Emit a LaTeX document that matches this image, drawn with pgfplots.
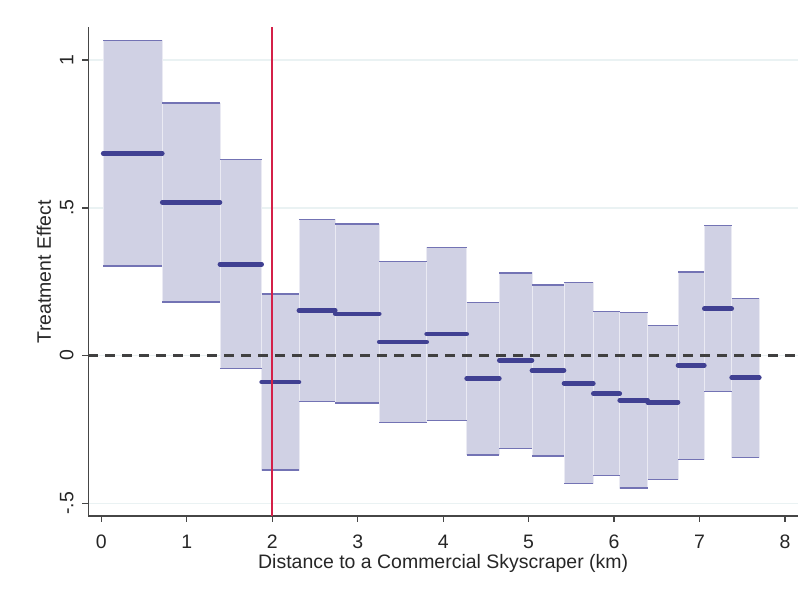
\documentclass[border=0pt]{standalone}
\usepackage{fontspec}
\setmainfont{Liberation Sans}
\usepackage{pgfplots}
\pgfplotsset{compat=1.18}
\definecolor{cifill}{RGB}{208,209,228}
\definecolor{cicap}{RGB}{115,115,180}
\definecolor{estcol}{RGB}{64,64,146}
\definecolor{redl}{RGB}{212,32,72}
\definecolor{zerocol}{RGB}{64,64,64}
\definecolor{gridcol}{RGB}{234,242,243}
\definecolor{axiscol}{RGB}{70,70,70}
% left, right, lower CI, upper CI, estimate
\def\allbins{%
\cibin{0.022}{0.713}{0.303}{1.066}{0.684}%
\cibin{0.713}{1.388}{0.181}{0.855}{0.519}%
\cibin{1.388}{1.876}{-0.043}{0.663}{0.309}%
\cibin{1.876}{2.312}{-0.388}{0.209}{-0.090}%
\cibin{2.312}{2.737}{-0.155}{0.460}{0.153}%
\cibin{2.737}{3.252}{-0.160}{0.445}{0.141}%
\cibin{3.252}{3.807}{-0.226}{0.318}{0.046}%
\cibin{3.807}{4.275}{-0.220}{0.366}{0.073}%
\cibin{4.275}{4.657}{-0.336}{0.180}{-0.078}%
\cibin{4.657}{5.039}{-0.314}{0.280}{-0.016}%
\cibin{5.039}{5.414}{-0.340}{0.239}{-0.050}%
\cibin{5.414}{5.757}{-0.433}{0.247}{-0.094}%
\cibin{5.757}{6.066}{-0.406}{0.149}{-0.129}%
\cibin{6.066}{6.393}{-0.448}{0.145}{-0.151}%
\cibin{6.393}{6.748}{-0.419}{0.102}{-0.158}%
\cibin{6.748}{7.056}{-0.351}{0.283}{-0.033}%
\cibin{7.056}{7.376}{-0.122}{0.441}{0.159}%
\cibin{7.376}{7.699}{-0.345}{0.194}{-0.075}%
}
\newcommand{\rectbin}[5]{%
\addplot[fill=cifill, draw=white!55!cifill, line width=0.6pt] coordinates {(#1,#3) (#2,#3) (#2,#4) (#1,#4)} -- cycle;}
\newcommand{\capbin}[5]{%
\addplot[cicap, line width=1.1pt] coordinates {(#1,#3) (#2,#3)};
\addplot[cicap, line width=1.1pt] coordinates {(#1,#4) (#2,#4)};}
\newcommand{\estbin}[5]{%
\addplot[estcol, line width=3.5pt, line cap=round] coordinates {(#1,#5) (#2,#5)};}
\begin{document}
\begin{tikzpicture}
\begin{axis}[name=ax, scale only axis, width=532.3pt, height=366.5pt,
  xmin=-0.153, xmax=8.152, ymin=-0.543, ymax=1.111,
  axis x line*=bottom, axis y line*=left,
  axis line style={-, draw=axiscol, line width=1pt},
  xtick={0,1,2,3,4,5,6,7,8}, xticklabels={0,1,2,3,4,5,6,7,8},
  ytick={-0.5,0,0.5,1}, yticklabels={-.5,0,.5,1},
  tick align=outside, major tick length=4.5pt,
  tick style={draw=axiscol, line width=1pt},
  ymajorgrids, grid style={draw=gridcol, line width=1.1pt},
  ticklabel style={font=\fontsize{14.6}{17}\selectfont, text=black!85},
  label style={font=\fontsize{14.6}{17}\selectfont, text=black!85},
  xticklabel style={anchor=base, yshift=-20pt},
  yticklabel style={rotate=90, anchor=base, yshift=6.75pt},
  xlabel={Distance to a Commercial Skyscraper (km)},
  ylabel={Treatment Effect},
  xlabel style={at={(axis description cs:0.5,0)}, anchor=base, yshift=-39.5pt},
  ylabel style={at={(axis description cs:0,0.5)}, anchor=center, yshift=33.2pt},
]
\let\cibin\rectbin \allbins
\let\cibin\capbin \allbins
\addplot[zerocol, line width=1.6pt, dash pattern=on 7.5pt off 5.25pt] coordinates {(-0.153,0) (8.152,0)};
\let\cibin\estbin \allbins
\addplot[redl, line width=1.2pt] coordinates {(2,-0.543) (2,1.111)};
\end{axis}
\pgfresetboundingbox
\path[use as bounding box] ([shift={(-66.2pt,-59.25pt)}]ax.south west) rectangle ([shift={(8.25pt,20.5pt)}]ax.north east);
\end{tikzpicture}
\end{document}
